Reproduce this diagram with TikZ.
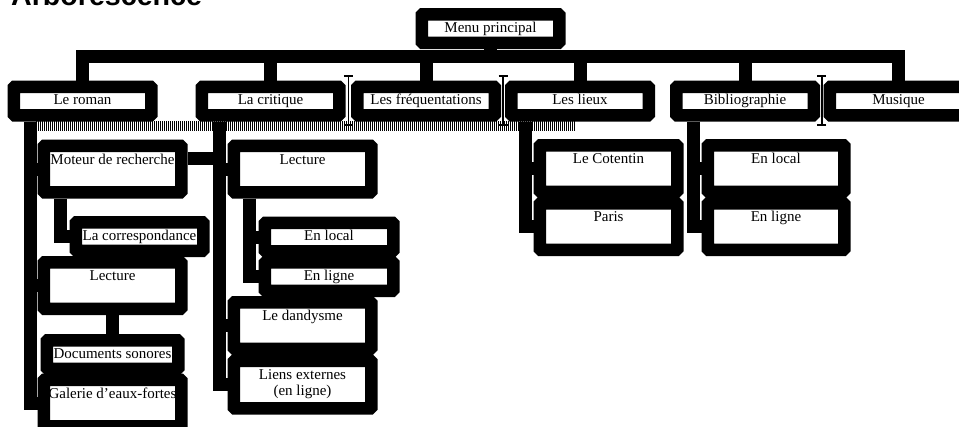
\documentclass[tikz,border=0pt]{standalone}
\usepackage{fontspec}
\setmainfont{Liberation Serif}
\newfontfamily\titrefont{Liberation Sans}
\usetikzlibrary{arrows.meta,positioning,calc}

\begin{document}
\begin{tikzpicture}[x=1pt, y=-1pt,
    cadre/.style={draw=black, fill=white, line width=12.5pt, inner sep=0pt,
        rounded corners=1pt, font=\fontsize{15}{16}\selectfont},
    court/.style={cadre, minimum height=28.5pt, text height=10pt, text depth=3pt},
    haut/.style={cadre, text height=18.25pt, text depth=28.25pt},
    lien/.style={line width=13pt, line join=miter},
    fin/.style={line width=1.5pt, shorten <=-6pt, shorten >=-4pt,
        {Bar[width=9pt,line width=2pt]}-{Bar[width=9pt,line width=2pt]}},
    hachure/.style={line width=1pt}]
    \useasboundingbox (0,0) rectangle (959,426);

    % Titre
    \node[anchor=base west, inner sep=0pt,
        font=\titrefont\bfseries\fontsize{28.6}{30}\selectfont] (titre) at (11,5) {Arborescence};

    % Bande hachuree
    \foreach \x in {36,38,...,574}
        \draw[hachure] (\x,121) -- (\x,131);

    % Premier niveau
    \node[court, minimum width=137.5pt] (menu) at (490.5,28.5) {Menu principal};
    \node[court, minimum width=137.5pt] (roman) at (82.5,101) {Le roman};
    \node[court, minimum width=137.5pt] (critique) at (270.5,101) {La critique};
    \node[court, minimum width=137.5pt] (freq) at (426,101) {Les fréquentations};
    \node[court, minimum width=137.5pt] (lieux) at (580,101) {Les lieux};
    \node[court, minimum width=137.5pt] (biblio) at (745,101) {Bibliographie};
    \node[court, minimum width=137.5pt] (musique) at (898.5,101) {Musique};

    \coordinate (barre) at (490.5,56.5);
    \draw[lien] (roman.north) |- (barre) -| (musique.north);
    \draw[lien] (menu.south) -- (barre);
    \foreach \n in {critique,freq,lieux,biblio}
        \draw[lien] (\n.north) -- (\n.north |- barre);

    \draw[fin] ($(critique.north east)!.5!(freq.north west)$) -- ($(critique.south east)!.5!(freq.south west)$);
    \draw[fin] ($(freq.north east)!.5!(lieux.north west)$) -- ($(freq.south east)!.5!(lieux.south west)$);
    \draw[fin] ($(biblio.north east)!.5!(musique.north west)$) -- ($(biblio.south east)!.5!(musique.south west)$);

    % Le roman
    \node[haut, minimum width=137.5pt] (moteur) at (112.5,169) {Moteur de recherche};
    \node[court, minimum width=127.5pt] (corresp) at (139.5,236.5) {La correspondance};
    \node[haut, minimum width=137.5pt] (lecturer) at (112.5,285.5) {Lecture};
    \node[court, minimum width=131.5pt] (docs) at (112.5,354.5) {Documents sonores};
    \node[haut, minimum width=137.5pt] (galerie) at (112.5,403) {Galerie d'eaux-fortes};

    \coordinate (tr) at ([xshift=-52.5pt]roman.south);
    \draw[lien] (tr) |- (galerie.west);
    \draw[lien] (tr) |- (moteur.west);
    \draw[lien] (tr) |- (lecturer.west);
    \draw[lien] ([xshift=-52.5pt]moteur.south) |- (corresp.west);
    \draw[lien] (lecturer.south) -- (docs.north);

    % La critique
    \node[haut, minimum width=137.5pt] (lecturec) at (302.5,169) {Lecture};
    \node[court, minimum width=128.5pt] (enlocalc) at (329,237) {En local};
    \node[court, minimum width=128.5pt] (enlignec) at (329,276.5) {En ligne};
    \node[haut, minimum width=137.5pt] (dandy) at (302.5,325.5) {Le dandysme};
    \node[cadre, minimum width=137.5pt, minimum height=47.5pt, align=center] (liens) at (302.5,384.5) {Liens externes\\(en ligne)};

    \coordinate (tc) at ([xshift=-51.5pt]critique.south);
    \draw[lien] (tc) |- (liens.west);
    \draw[lien] (tc) |- (lecturec.west);
    \draw[lien] (tc) |- (dandy.west);
    \draw[lien] (moteur.8) -- (moteur.8 -| tc);
    \draw[lien] ([xshift=-53.5pt]lecturec.south) |- (enlignec.west);
    \draw[lien] ([xshift=-53.5pt]lecturec.south) |- (enlocalc.west);

    % Les lieux
    \node[haut, minimum width=137.5pt] (cotentin) at (608.5,168.5) {Le Cotentin};
    \node[haut, minimum width=137.5pt] (paris) at (608.5,226.5) {Paris};
    \draw[lien] ([xshift=-55pt]lieux.south) |- (paris.west);
    \draw[lien] ([xshift=-55pt]lieux.south) |- (cotentin.west);

    % Bibliographie
    \node[haut, minimum width=136.5pt] (enlocalb) at (776,168.5) {En local};
    \node[haut, minimum width=136.5pt] (enligneb) at (776,226.5) {En ligne};
    \draw[lien] ([xshift=-52pt]biblio.south) |- (enligneb.west);
    \draw[lien] ([xshift=-52pt]biblio.south) |- (enlocalb.west);
\end{tikzpicture}
\end{document}
